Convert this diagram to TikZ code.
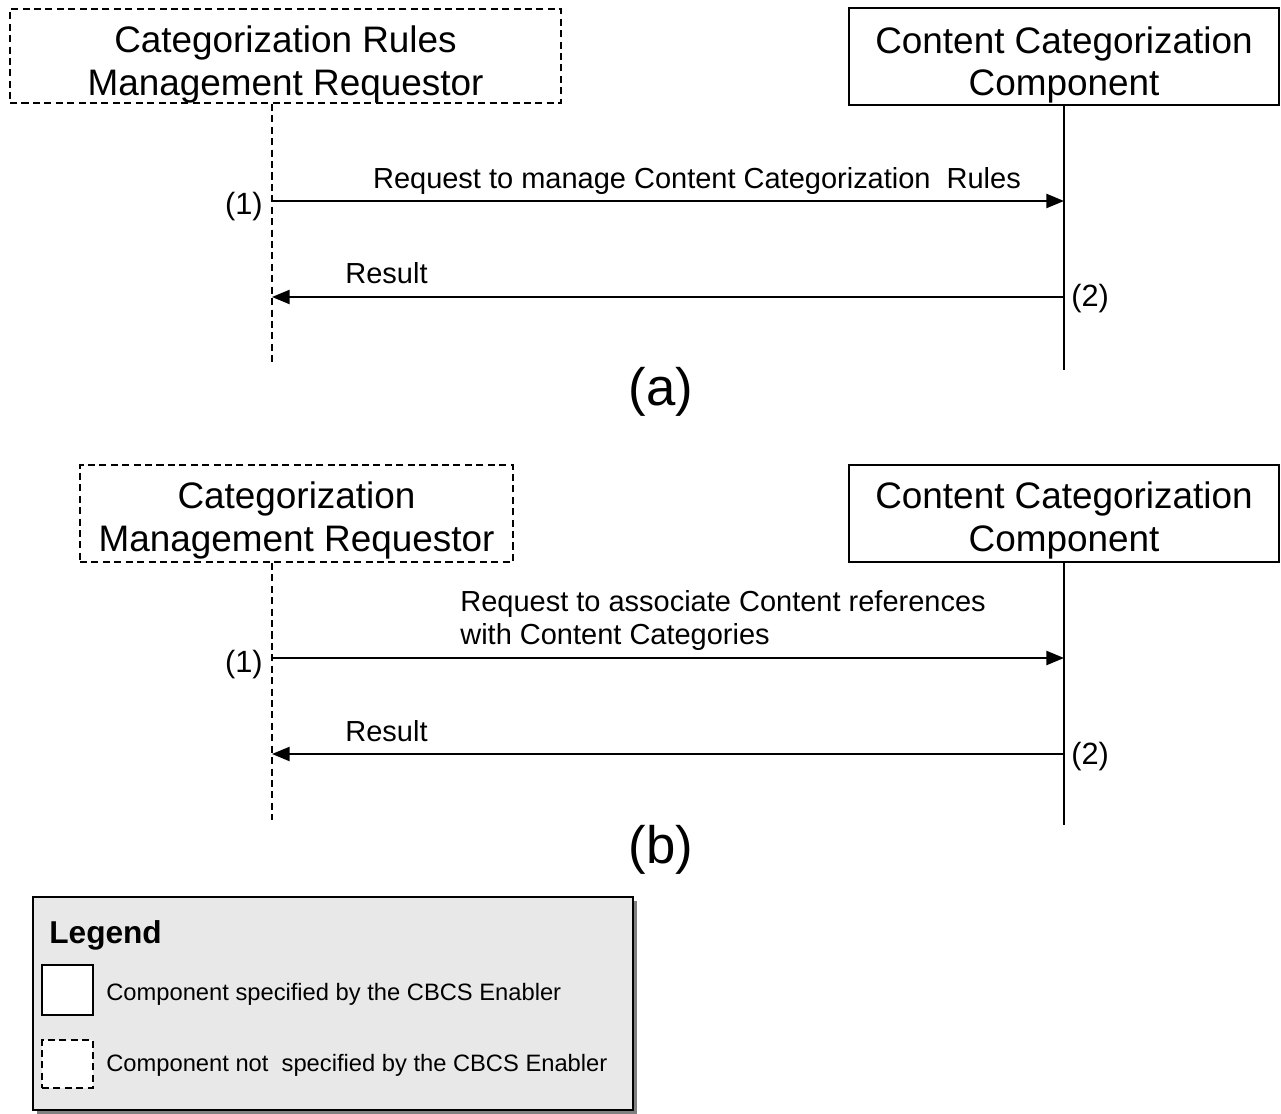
\documentclass[tikz,border=0pt]{standalone}
\usepackage{fontspec}
\setmainfont{Liberation Sans}
\usetikzlibrary{arrows.meta}

\definecolor{legendgray}{HTML}{E8E8E8}
\definecolor{shadowgray}{HTML}{808080}

\begin{document}
\begin{tikzpicture}[x=0.02cm,y=-0.02cm]
% Diagram style
\tikzset{
    comp/.style={draw,line width=1.1pt,fill=white,inner sep=0pt},
    extcomp/.style={comp,dash pattern=on 4pt off 2.5pt},
    comptext/.style={align=center,inner sep=0pt,font=\fontsize{21}{24}\selectfont},
    life/.style={line width=1.1pt},
    extlife/.style={life,dash pattern=on 4pt off 2.5pt},
    msg/.style={line width=1.1pt,-{Triangle[length=10pt,width=8pt]}},
    lbl/.style={inner sep=0pt,font=\fontsize{16.5}{19}\selectfont},
    stepnum/.style={inner sep=0pt,font=\fontsize{17.5}{20}\selectfont},
    panelcap/.style={inner sep=0pt,font=\fontsize{30}{34}\selectfont},
    legtext/.style={inner sep=0pt,anchor=base west,font=\fontsize{13.5}{16}\selectfont}
}
\useasboundingbox (0,0) rectangle (1281,1114);

% Components (a)
\node[extcomp,minimum width=11.02cm,minimum height=1.88cm] (Reqa) at (285.5,56) {};
\node[comptext] (Reqatext) at ([yshift=-0.17cm]Reqa.center)
    {Categorization Rules\\Management Requestor};
\node[comp,minimum width=8.6cm,minimum height=1.94cm] (Compa) at (1064,56.5) {};
\node[comptext] (Compatext) at ([yshift=-0.17cm]Compa.center)
    {Content Categorization\\Component};

% Components (b)
\node[extcomp,minimum width=8.66cm,minimum height=1.94cm] (Reqb) at (296.5,513.5) {};
\node[comptext] (Reqbtext) at ([yshift=-0.14cm]Reqb.center)
    {Categorization\\Management Requestor};
\node[comp,minimum width=8.6cm,minimum height=1.94cm] (Compb) at (1064,513.5) {};
\node[comptext] (Compbtext) at ([yshift=-0.14cm]Compb.center)
    {Content Categorization\\Component};

% Lifelines
\coordinate (Reqaend) at (272,363);
\coordinate (Compaend) at (1064,370);
\coordinate (Reqbend) at (272,820);
\coordinate (Compbend) at (1064,825);
\draw[extlife] (Reqa.south -| Reqaend) -- (Reqaend);
\draw[life] (Compa.south) -- (Compaend);
\draw[extlife] (Reqb.south -| Reqbend) -- (Reqbend);
\draw[life] (Compb.south) -- (Compbend);

% Messages (a)
\coordinate (Reqa1) at (272,201);
\coordinate (Compa1) at (1064,201);
\coordinate (Reqa2) at (272,297);
\coordinate (Compa2) at (1064,297);
\draw[msg] (Reqa1) -- (Compa1);
\draw[msg] (Compa2) -- (Reqa2);
\node[lbl,anchor=base] (Msga1) at (697,189) {Request to manage Content Categorization\ \ Rules};
\node[lbl,anchor=base] (Msga2) at (386.5,284) {Result};
\node[stepnum,anchor=base east] (Stepa1) at (263,215) {(1)};
\node[stepnum,anchor=base west] (Stepa2) at (1071,307) {(2)};
\node[panelcap,anchor=base] (Capa) at (661,406) {(a)};

% Messages (b)
\coordinate (Reqb1) at (272,658);
\coordinate (Compb1) at (1064,658);
\coordinate (Reqb2) at (272,754);
\coordinate (Compb2) at (1064,754);
\draw[msg] (Reqb1) -- (Compb1);
\draw[msg] (Compb2) -- (Reqb2);
\node[lbl,align=left,anchor=north west] (Msgb1) at (460,590)
    {Request to associate Content references\\with Content Categories};
\node[lbl,anchor=base] (Msgb2) at (386.5,741) {Result};
\node[stepnum,anchor=base east] (Stepb1) at (263,672) {(1)};
\node[stepnum,anchor=base west] (Stepb2) at (1071,764) {(2)};
\node[panelcap,anchor=base] (Capb) at (661,863) {(b)};

% Legend
\fill[shadowgray] (37,901) rectangle (637,1114);
\draw[fill=legendgray,line width=0.8pt] (33,897) rectangle (633,1110);
\node[inner sep=0pt,anchor=base west,font=\bfseries\fontsize{18}{21}\selectfont] (Legend) at (49,943) {Legend};
\node[draw,fill=white,line width=1pt,minimum width=1.02cm,minimum height=1cm] (Legsolid) at (67.5,990) {};
\node[draw,fill=white,line width=1pt,dash pattern=on 4pt off 2.5pt,minimum width=1.02cm,minimum height=0.96cm] (Legdash) at (67.5,1064) {};
\node[legtext] (Legsolidtext) at (106,1000) {Component specified by the CBCS Enabler};
\node[legtext] (Legdashtext) at (106,1071) {Component not\ \ specified by the CBCS Enabler};
\end{tikzpicture}
\end{document}
